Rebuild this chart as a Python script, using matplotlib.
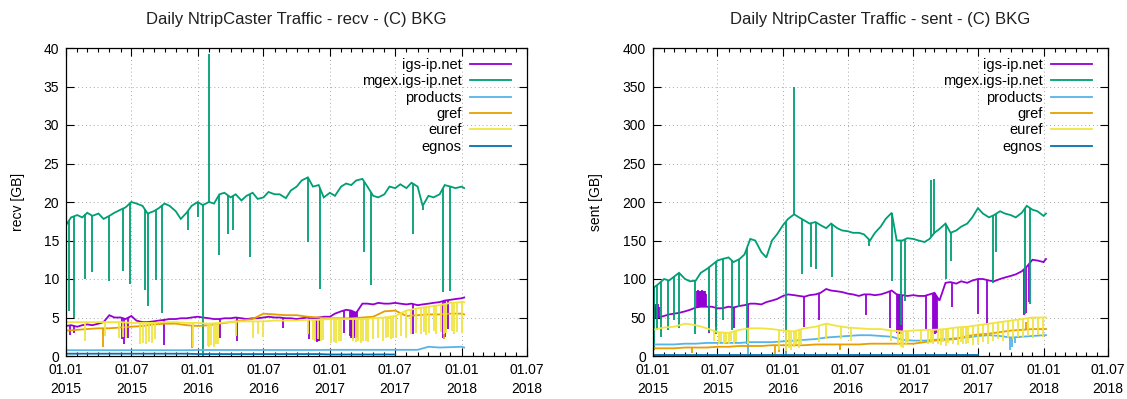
import numpy as np
import pandas as pd
import matplotlib
matplotlib.use("Agg")
import matplotlib.pyplot as plt
import matplotlib.dates as mdates

plt.rcParams['font.family'] = ['Liberation Sans', 'DejaVu Sans']

# ---------------- categories / grids ----------------
series_names = ["igs-ip.net", "mgex.igs-ip.net", "products", "gref", "euref", "egnos"]
series_colors = ["#9400d3", "#009e73", "#56b4e9", "#e69f00", "#f0e442", "#0072b2"]

semi_dates = list(pd.date_range("2015-01-01", "2018-01-01", freq="SMS").strftime("%Y-%m-%d")) + ["2018-01-08"]
month_dates = list(pd.date_range("2015-01-01", "2018-01-01", freq="MS").strftime("%Y-%m-%d")) + ["2018-01-08"]
egnos_dates = month_dates[:31]

# ---------------- recv (GB) ----------------
igs_recv = [3.9, 4.0, 3.8, 4.0, 4.1, 4.0, 4.2, 4.4, 5.3, 5.0, 5.0, 4.8, 5.2, 4.6, 4.4, 4.4, 4.5, 4.6, 4.7, 4.8, 4.8, 4.9, 4.9, 5.0,
            5.1, 5.0, 4.9, 4.8, 4.8, 4.9, 4.9, 5.0, 4.9, 4.8, 4.9, 4.9, 5.0, 5.1, 5.0, 5.0, 4.9, 4.9, 4.8, 4.9, 5.0, 4.9, 5.0, 5.1,
            5.1, 5.5, 5.8, 6.0, 5.9, 5.6, 6.8, 6.8, 6.7, 6.9, 6.8, 6.8, 6.9, 6.8, 6.7, 6.8, 6.6, 6.7, 6.8, 6.9, 7.0, 7.2, 7.3, 7.4,
            7.5, 7.6]
mgex_recv = [17.0, 18.0, 18.3, 18.0, 18.6, 18.2, 18.5, 17.8, 18.2, 18.6, 19.0, 19.3, 20.0, 19.8, 19.5, 18.5, 18.8, 19.2, 19.8, 19.5, 18.8, 17.8, 18.6, 19.5,
             20.0, 19.6, 20.0, 19.8, 21.0, 21.2, 20.6, 21.0, 20.2, 20.8, 21.2, 20.4, 20.6, 21.3, 21.0, 21.0, 20.5, 21.5, 22.0, 22.8, 23.2, 22.0, 22.2, 20.6,
             21.2, 20.8, 22.0, 22.4, 22.2, 22.8, 23.0, 22.0, 20.8, 20.6, 21.0, 22.0, 21.8, 22.3, 21.8, 22.5, 22.0, 19.5, 20.8, 20.6, 21.0, 22.2, 22.0, 21.8,
             22.0, 21.8]
products_recv = [0.75, 0.75, 0.75, 0.75, 0.75, 0.75, 0.75, 0.75, 0.75, 0.75, 0.75, 0.75,
                 0.78, 0.78, 0.78, 0.78, 0.78, 0.78, 0.78, 0.78, 0.78, 0.78, 0.78, 0.78,
                 0.8, 0.8, 0.8, 0.8, 0.8, 0.8, 0.8, 0.8, 0.8, 1.2, 1.1, 1.15,
                 1.2, 1.1]
gref_recv = [3.3, 3.4, 3.5, 3.6, 3.6, 3.7, 3.8, 3.9, 4.1, 4.2, 4.2, 4.0,
             3.9, 4.0, 4.2, 4.4, 4.6, 4.8, 5.5, 5.4, 5.3, 5.3, 5.1, 5.0,
             4.9, 4.9, 4.9, 5.0, 5.1, 5.8, 5.9, 5.2, 5.3, 5.4, 5.4, 5.5,
             5.5, 5.4]
euref_recv = [4.4, 4.4, 4.4, 4.4, 4.4, 4.4, 4.3, 4.3, 4.3, 4.4, 4.4, 4.3,
              4.3, 4.2, 4.3, 4.4, 4.5, 4.5, 4.5, 4.6, 4.6, 4.6, 4.7, 4.7,
              4.8, 4.8, 4.8, 4.8, 4.9, 5.0, 5.2, 5.9, 6.2, 6.4, 6.6, 6.9,
              7.0, 7.0]
egnos_recv = [0.3, 0.3, 0.3, 0.3, 0.3, 0.3, 0.3, 0.3, 0.3, 0.3, 0.3, 0.3,
              0.25, 0.25, 0.25, 0.25, 0.25, 0.25, 0.25, 0.25, 0.25, 0.25, 0.25, 0.25,
              0.2, 0.2, 0.2, 0.2, 0.2, 0.2, 0.2]

igs_recv_dips = [("2015-01-12", 2.7), ("2015-01-22", 3.0), ("2015-06-05", 2.2), ("2015-06-12", 1.6),
                 ("2015-06-22", 2.4), ("2015-09-29", 1.4), ("2016-03-03", 2.3), ("2016-04-18", 1.9),
                 ("2016-08-24", 3.6), ("2016-11-03", 2.2), ("2016-11-24", 1.9), ("2016-11-27", 1.8),
                 ("2016-11-30", 2.0), ("2016-12-03", 1.9), ("2017-02-10", 3.0), ("2017-02-25", 2.6),
                 ("2017-02-28", 2.3), ("2017-03-03", 2.5), ("2017-03-06", 2.2), ("2017-03-09", 2.6),
                 ("2017-03-12", 2.3), ("2017-03-15", 2.5), ("2017-03-18", 2.4), ("2017-08-20", 2.9),
                 ("2017-11-11", 2.3), ("2017-11-16", 2.5), ("2017-11-23", 3.5)]
mgex_recv_dips = [("2015-01-09", 5.8), ("2015-01-24", 5.0), ("2015-02-24", 10.0), ("2015-03-15", 10.9),
                  ("2015-04-30", 9.8), ("2015-06-08", 11.1), ("2015-06-27", 9.4), ("2015-08-07", 8.6),
                  ("2015-08-16", 6.5), ("2015-09-08", 9.9), ("2015-09-24", 5.6), ("2015-12-04", 16.3),
                  ("2016-01-01", 18.0), ("2016-01-15", 0.0), ("2016-02-01", 39.2), ("2016-02-29", 13.1),
                  ("2016-03-24", 15.9), ("2016-04-08", 16.3), ("2016-05-25", 12.8), ("2016-11-02", 14.8),
                  ("2016-12-04", 8.7), ("2017-04-06", 13.5), ("2017-04-24", 9.2), ("2017-08-18", 15.9),
                  ("2017-09-15", 18.9), ("2017-11-10", 8.3), ("2017-11-29", 8.5)]
gref_recv_dips = [("2015-04-14", 1.2), ("2015-12-16", 1.0), ("2017-11-12", 2.2)]
euref_recv_dips = [("2015-02-24", 1.9), ("2015-04-20", 2.6), ("2015-05-28", 2.4), ("2015-06-08", 2.5), ("2015-06-16", 2.3),
                   ("2015-07-26", 1.6), ("2015-08-03", 1.7), ("2015-08-10", 1.6), ("2015-08-18", 1.8), ("2015-08-27", 1.7),
                   ("2015-09-05", 2.2), ("2015-12-19", 1.2), ("2016-01-28", 1.3), ("2016-02-02", 1.2), ("2016-02-08", 1.4),
                   ("2016-02-14", 1.2), ("2016-02-20", 1.5), ("2016-02-25", 1.6), ("2016-04-17", 2.6), ("2016-06-01", 2.3),
                   ("2016-06-15", 2.8), ("2016-06-29", 2.5), ("2016-10-31", 2.9), ("2016-11-15", 2.1), ("2016-11-22", 2.0),
                   ("2016-11-29", 2.2), ("2016-12-06", 2.0), ("2016-12-13", 2.1), ("2017-01-05", 1.7), ("2017-01-12", 1.8),
                   ("2017-01-19", 1.7), ("2017-01-26", 1.9), ("2017-02-02", 2.0), ("2017-03-06", 1.9), ("2017-03-13", 1.8),
                   ("2017-03-20", 2.0), ("2017-03-27", 1.7), ("2017-04-03", 1.9), ("2017-04-10", 2.0), ("2017-04-17", 1.8),
                   ("2017-05-01", 2.2), ("2017-05-15", 2.4), ("2017-05-29", 2.0), ("2017-06-05", 2.3), ("2017-06-12", 2.5),
                   ("2017-06-19", 2.2), ("2017-06-26", 2.4), ("2017-07-03", 2.3), ("2017-07-17", 2.6), ("2017-07-31", 2.4),
                   ("2017-08-14", 2.9), ("2017-08-28", 3.0), ("2017-09-11", 2.8), ("2017-09-18", 3.1), ("2017-09-25", 2.7),
                   ("2017-10-02", 3.0), ("2017-10-16", 3.2), ("2017-10-23", 2.9), ("2017-11-06", 3.1), ("2017-11-13", 2.8),
                   ("2017-11-20", 3.0), ("2017-12-04", 3.3), ("2017-12-11", 2.9), ("2017-12-18", 3.1), ("2018-01-01", 3.0)]

# ---------------- sent (GB) ----------------
igs_sent = [50, 50, 52, 54, 55, 56, 58, 60, 63, 64, 64, 64, 62, 62, 64, 63, 65, 66, 68, 68, 67, 70, 72, 74,
            78, 80, 79, 78, 77, 79, 80, 82, 87, 85, 84, 83, 81, 80, 78, 80, 80, 79, 80, 82, 85, 80, 79, 78,
            79, 78, 78, 80, 82, 72, 95, 96, 94, 97, 95, 98, 100, 100, 98, 97, 100, 102, 104, 106, 110, 116, 125, 124,
            122, 126]
mgex_sent = [88, 93, 100, 98, 103, 108, 100, 97, 98, 108, 113, 118, 124, 126, 128, 122, 126, 132, 152, 150, 135, 128, 150, 158,
             170, 178, 184, 180, 176, 172, 174, 170, 166, 172, 166, 163, 162, 160, 160, 158, 150, 160, 168, 178, 186, 150, 150, 153,
             152, 150, 148, 152, 160, 165, 172, 160, 163, 168, 172, 180, 192, 185, 180, 183, 188, 185, 183, 180, 186, 195, 190, 188,
             182, 185]
products_sent = [15, 15, 15, 16, 16, 17, 17, 17, 17, 18, 18, 18,
                 19, 20, 21, 22, 24, 25, 26, 27, 27, 26, 25, 21,
                 20, 20, 21, 22, 23, 24, 26, 27, 26, 24, 25, 26,
                 27, 27]
gref_sent = [10, 10, 10, 11, 11, 11, 12, 12, 13, 13, 13, 14,
             14, 14, 14, 15, 15, 15, 15, 15, 16, 16, 16, 16,
             16, 18, 20, 21, 22, 26, 28, 29, 31, 33, 34, 35,
             35, 35]
euref_sent = [34, 37, 38, 42, 40, 36, 31, 30, 34, 36, 36, 35,
              33, 32, 36, 38, 42, 39, 37, 36, 35, 35, 33, 32,
              33, 34, 34, 35, 37, 38, 40, 42, 44, 46, 48, 50,
              50, 50]
egnos_sent = [1.5, 1.5, 1.5, 1.5, 1.5, 1.5, 1.5, 1.5, 1.5, 1.5, 1.5, 1.5,
              1.5, 1.5, 1.5, 1.5, 1.5, 1.5, 1.5, 1.5, 1.5, 1.5, 1.5, 1.5,
              1.5, 1.5, 1.5, 1.5, 1.5, 1.5, 1.5]

igs_sent_dips = [("2015-01-03", 66), ("2015-01-06", 64), ("2015-01-09", 68), ("2015-01-12", 65), ("2015-01-15", 67),
                 ("2015-01-18", 63), ("2015-05-04", 85), ("2015-05-06", 83), ("2015-05-08", 86), ("2015-05-10", 84),
                 ("2015-05-12", 85), ("2015-05-14", 83), ("2015-05-16", 84), ("2015-05-18", 86), ("2015-05-20", 84),
                 ("2015-05-22", 83), ("2015-05-24", 85), ("2015-05-26", 82), ("2015-05-28", 84), ("2015-05-30", 80),
                 ("2015-06-08", 30), ("2015-06-28", 38), ("2015-08-17", 36), ("2015-09-26", 16), ("2016-02-28", 38),
                 ("2016-04-11", 47), ("2016-08-20", 53), ("2016-10-28", 36), ("2016-11-15", 30), ("2016-11-19", 34),
                 ("2016-11-22", 28), ("2016-11-25", 31), ("2016-11-28", 29), ("2016-12-01", 33), ("2017-02-04", 34),
                 ("2017-02-24", 30), ("2017-02-27", 36), ("2017-03-02", 29), ("2017-03-05", 33), ("2017-03-08", 30),
                 ("2017-04-20", 64), ("2017-07-02", 55), ("2017-07-27", 40), ("2017-11-08", 53), ("2017-11-12", 56),
                 ("2017-11-20", 70)]
mgex_sent_dips = [("2015-01-05", 8), ("2015-01-12", 34), ("2015-01-24", 25), ("2015-02-12", 34), ("2015-03-01", 47),
                  ("2015-03-16", 36), ("2015-04-28", 29), ("2015-06-07", 31), ("2015-06-27", 29), ("2015-07-17", 47),
                  ("2015-08-10", 34), ("2015-08-30", 64), ("2015-09-22", 16), ("2016-01-08", 0), ("2016-02-01", 350),
                  ("2016-02-24", 107), ("2016-03-20", 115), ("2016-04-02", 113), ("2016-05-18", 103), ("2016-08-28", 143),
                  ("2016-11-01", 98), ("2016-11-28", 40), ("2016-12-08", 72), ("2017-02-20", 228), ("2017-02-27", 230),
                  ("2017-04-03", 100), ("2017-04-17", 124), ("2017-08-12", 95), ("2017-08-20", 135), ("2017-11-10", 55),
                  ("2017-11-24", 68)]
products_sent_dips = [("2015-09-25", 0), ("2016-01-10", 0), ("2017-09-28", 8), ("2017-10-05", 12), ("2017-10-12", 17)]
gref_sent_dips = [("2015-04-20", 4), ("2015-12-10", 3), ("2015-12-22", 5), ("2016-06-10", 8), ("2017-11-12", 44)]
euref_sent_dips = [("2015-06-20", 20), ("2015-07-05", 16), ("2015-07-12", 18), ("2015-07-19", 15), ("2015-07-26", 17),
                   ("2015-08-02", 16), ("2015-08-09", 19), ("2015-08-16", 15), ("2015-08-23", 18), ("2015-09-25", 16),
                   ("2015-12-20", 8), ("2016-01-10", 6), ("2016-01-17", 10), ("2016-01-24", 8), ("2016-01-31", 12),
                   ("2016-02-07", 15), ("2016-02-14", 10), ("2016-02-21", 14), ("2016-04-10", 18), ("2016-05-01", 22),
                   ("2016-06-12", 22), ("2016-07-10", 20), ("2016-10-30", 20), ("2016-11-20", 15), ("2016-11-27", 12),
                   ("2016-12-04", 10), ("2016-12-11", 14), ("2016-12-18", 18), ("2017-01-22", 18), ("2017-02-12", 15),
                   ("2017-02-19", 17), ("2017-02-26", 15), ("2017-03-12", 16), ("2017-03-19", 14), ("2017-03-26", 18),
                   ("2017-04-02", 13), ("2017-04-09", 17), ("2017-04-23", 15), ("2017-05-07", 14), ("2017-05-14", 18),
                   ("2017-05-21", 16), ("2017-05-28", 15), ("2017-06-04", 17), ("2017-06-18", 14), ("2017-07-02", 16),
                   ("2017-07-16", 18), ("2017-07-30", 15), ("2017-08-13", 20), ("2017-08-27", 22), ("2017-09-10", 20),
                   ("2017-09-24", 24), ("2017-10-08", 22), ("2017-10-22", 25), ("2017-11-05", 23), ("2017-11-19", 26),
                   ("2017-12-03", 24), ("2017-12-17", 27), ("2017-12-31", 25)]

LW = 1.3


def draw(ax, dates, vals, dips, color):
    d = pd.to_datetime(dates)
    line, = ax.plot(d, vals, color=color, lw=LW, solid_joinstyle='miter')
    if dips:
        dd = pd.to_datetime([p[0] for p in dips])
        dv = [p[1] for p in dips]
        base = np.interp(mdates.date2num(dd), mdates.date2num(d), vals)
        ax.vlines(dd, base, dv, color=color, lw=LW)
    return line


def style(ax, ymax, ystep, title, ylabel, label_x):
    ax.set_xlim(pd.Timestamp("2015-01-01"), pd.Timestamp("2018-07-01"))
    ax.set_ylim(0, ymax)
    ax.set_yticks(np.arange(0, ymax + 1e-9, ystep))
    ax.xaxis.set_major_locator(mdates.MonthLocator(bymonth=[1, 7]))
    ax.xaxis.set_minor_locator(mdates.MonthLocator())
    ax.xaxis.set_major_formatter(mdates.DateFormatter("%d.%m\n%Y"))
    ax.tick_params(which='both', direction='in', top=True, right=True, labelsize=10, color='black')
    ax.tick_params(which='major', length=6, width=0.8, pad=5)
    ax.tick_params(which='minor', length=3, width=0.8)
    ax.tick_params(axis='y', which='minor', left=False, right=False)
    for s in ax.spines.values():
        s.set_linewidth(0.9)
    ax.grid(True, which='major', color='#a8a8a8', lw=0.7, linestyle=(0, (1, 3)))
    ax.set_title(title, fontsize=12, pad=17, color='#202020')
    ax.set_ylabel(ylabel, fontsize=10)
    ax.yaxis.set_label_coords(label_x, 0.5)


fig = plt.figure(figsize=(11.27, 3.99), dpi=100)
ax1 = fig.add_axes([66 / 1127, 43 / 399, 461 / 1127, 308 / 399])
ax2 = fig.add_axes([653 / 1127, 43 / 399, 455 / 1127, 308 / 399])

recv = [(semi_dates, igs_recv, igs_recv_dips), (semi_dates, mgex_recv, mgex_recv_dips),
        (month_dates, products_recv, []), (month_dates, gref_recv, gref_recv_dips),
        (month_dates, euref_recv, euref_recv_dips), (egnos_dates, egnos_recv, [])]
sent = [(semi_dates, igs_sent, igs_sent_dips), (semi_dates, mgex_sent, mgex_sent_dips),
        (month_dates, products_sent, products_sent_dips), (month_dates, gref_sent, gref_sent_dips),
        (month_dates, euref_sent, euref_sent_dips), (egnos_dates, egnos_sent, [])]

for ax, data in ((ax1, recv), (ax2, sent)):
    handles = []
    for (dts, vals, dips), col in zip(data, series_colors):
        handles.append(draw(ax, dts, vals, dips, col))
    leg = ax.legend(handles, series_names, loc='upper right', bbox_to_anchor=(1 - 16 / 460, 1 - 10 / 308),
                    frameon=False, markerfirst=False, handlelength=2.8, handletextpad=0.6,
                    labelspacing=0.16, borderpad=0, borderaxespad=0, fontsize=10.5)
    for h in leg.get_lines():
        h.set_linewidth(1.3)

style(ax1, 40, 5, "Daily NtripCaster Traffic - recv - (C) BKG", "recv [GB]", -0.089)
style(ax2, 400, 50, "Daily NtripCaster Traffic - sent - (C) BKG", "sent [GB]", -0.11)

fig.canvas.draw()
for ax in (ax1, ax2):
    for t in ax.get_xticklabels():
        t.set_linespacing(1.5)

fig.savefig("out.png", dpi=100)
